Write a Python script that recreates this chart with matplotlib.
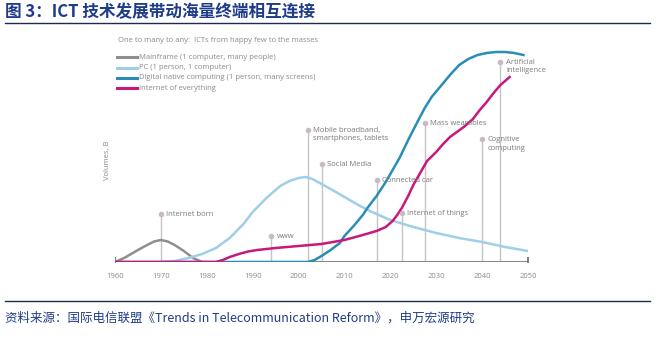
import numpy as np
import matplotlib
matplotlib.use('Agg')
import matplotlib.pyplot as plt
from matplotlib.lines import Line2D

plt.rcParams['font.family'] = ['Open Sans', 'DejaVu Sans']

# ---- data (volumes in arbitrary units) ----
mainframe_years = [1960, 1962, 1965, 1967, 1968.5, 1970, 1971.5, 1973, 1975, 1977, 1979]
mainframe_vals = [0, 4, 12, 17, 20.5, 22, 20.5, 17, 11, 4, 0]

pc_years = [1970, 1973, 1976, 1979, 1982, 1985, 1988, 1990, 1993, 1996, 1998, 2000, 2001.5,
            2003, 2005, 2007, 2010, 2013, 2016, 2020, 2025, 2030, 2035, 2040, 2045, 2050]
pc_vals = [0, 1, 4, 8, 14, 24, 38, 50, 64, 76, 81, 84, 85,
           83, 78, 73, 65, 57, 50, 42, 35, 29, 24, 20, 15, 11]

digital_years = [1960, 2002, 2003.5, 2005, 2007, 2009, 2010, 2012, 2014, 2015, 2017, 2019, 2020.5,
                 2022, 2024, 2026, 2027.5, 2029, 2031, 2033, 2035, 2037, 2039, 2041, 2043, 2045,
                 2047, 2049]
digital_vals = [0, 0, 2, 6, 12, 19, 26, 36, 47, 54, 66, 80, 92,
                104, 123, 141, 154, 165, 176, 187, 197, 203, 207, 209, 210, 210,
                209, 207]

ioe_years = [1960, 1982, 1983.5, 1985, 1987, 1989, 1991, 1995, 2000, 2005, 2010, 2014, 2017, 2019,
             2020.5, 2021.5, 2022.5, 2024, 2025, 2026.5, 2028, 2030, 2031.5, 2033, 2036, 2038,
             2039.5, 2041, 2042.5, 2044, 2046]
ioe_vals = [0, 0, 2, 5, 8, 10.5, 12, 14, 16, 18, 22, 27, 31, 35,
            41, 47, 54, 67, 77, 89, 101, 110, 118, 125, 135, 143,
            152, 160, 169, 177, 185]

events = ['Internet born', 'www', 'Mobile broadband,\nsmartphones, tablets', 'Social Media',
          'Connected car', 'Internet of things', 'Mass wearables', 'Cognitive\ncomputing',
          'Artificial\nintelligence']
event_years = [1970, 1994, 2002, 2005, 2017, 2022.5, 2027.5, 2040, 2044]
event_vals = [48, 26, 132, 98, 82, 49, 139, 123, 200]

xticks = list(range(1960, 2051, 10))

legend_labels = ['Mainframe (1 computer, many people)', 'PC (1 person, 1 computer)',
                 'Digital native computing (1 person, many screens)', 'Internet of everything']
colors = ['#8e8e8e', '#9fcfe6', '#2a8db5', '#c8187c']

W, H = 657, 355
fig = plt.figure(figsize=(W / 100, H / 100), dpi=100)
ax = fig.add_axes([115 / W, 93 / H, 413 / W, 220 / H])
ax.set_xlim(1960, 2050)
ax.set_ylim(0, 220)
ax.patch.set_alpha(0)
for s in ax.spines.values():
    s.set_visible(False)
ax.set_yticks([])
ax.set_xticks(xticks)
ax.tick_params(axis='x', length=0, labelsize=5.5, labelcolor='#8a8a8a', pad=8)

# event markers
for lab, ex, ev in zip(events, event_years, event_vals):
    ax.plot([ex, ex], [0, ev], color='#c4c4c4', lw=1, zorder=1)
    ax.plot(ex, ev, 'o', ms=4, color='#c9b8c6', mec='none', zorder=5)
    ax.text(ex + 1.2, ev + 3, lab, fontsize=5.5, color='#7a7a7a', va='top', ha='left',
            linespacing=1.3, zorder=5)

# baseline axis
ax.plot([1960, 2050], [0, 0], color='#8a8a8a', lw=2.2, zorder=2, solid_capstyle='butt')
ax.plot([1960, 2050], [0, 0], '|', color='#6a6a6a', ms=7, mew=1.2, zorder=2)

ax.plot(mainframe_years, mainframe_vals, color=colors[0], lw=1.8, zorder=3)
ax.plot(pc_years, pc_vals, color=colors[1], lw=1.8, zorder=3)
ax.plot(digital_years, digital_vals, color=colors[2], lw=1.8, zorder=4, solid_joinstyle='round')
ax.plot(ioe_years, ioe_vals, color=colors[3], lw=1.8, zorder=4, solid_joinstyle='round')

fig.text(108 / W, 1 - 160 / H, 'Volumes, B', rotation=90, fontsize=5.5, color='#8a8a8a',
         ha='center', va='center')

# subtitle & legend
fig.text(118 / W, 1 - 41 / H, 'One to many to any:  ICTs from happy few to the masses',
         fontsize=5.5, color='#8a8a8a', va='center')
for i, (lab, c) in enumerate(zip(legend_labels, colors)):
    y = 1 - (57.3 + 10.3 * i) / H
    fig.add_artist(Line2D([117 / W, 137 / W], [y, y], color=c, lw=2.2))
    fig.text(139 / W, y, lab, fontsize=5.5, color='#8a8a8a', va='center')

# title & source
navy = '#1f3c88'
fig.text(5 / W, 1 - 12 / H, '图 3：ICT 技术发展带动海量终端相互连接', fontsize=12, fontweight='bold',
         color=navy, va='center', family=['Noto Sans CJK SC', 'DejaVu Sans'])
fig.add_artist(Line2D([5 / W, 650 / W], [1 - 23 / H, 1 - 23 / H], color='#1c2c4c', lw=1))
fig.add_artist(Line2D([5 / W, 650 / W], [1 - 301 / H, 1 - 301 / H], color='#1c2c4c', lw=1))
fig.text(5 / W, 1 - 318 / H, '资料来源：国际电信联盟《Trends in Telecommunication Reform》，申万宏源研究',
         fontsize=9, color=navy, va='center', family=['Noto Sans CJK SC', 'DejaVu Sans'])

fig.savefig('out.png', dpi=100)
